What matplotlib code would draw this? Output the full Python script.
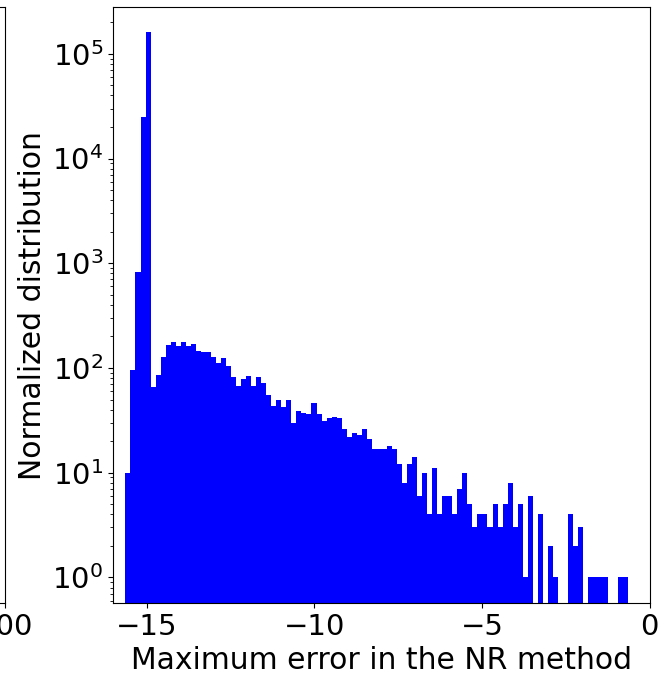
import numpy as np
import matplotlib
matplotlib.use("Agg")
import matplotlib.pyplot as plt

# histogram of the max error (log10) per run, 100 bins
bin_start = -15.63
bin_stop = -0.64
n_bins = 100

counts = [
    10, 95, 830, 25000, 160000, 66, 85, 128, 165, 178,
    162, 177, 162, 171, 145, 142, 143, 128, 112, 125,
    104, 82, 68, 78, 83, 68, 82, 72, 55, 43,
    50, 42, 50, 30, 39, 37, 36, 46, 36, 31,
    33, 34, 33, 26, 22, 24, 23, 26, 21, 17,
    17, 17, 18, 17, 12, 8, 12, 14, 6, 10,
    4, 11, 4, 6, 6, 4, 7, 10, 5, 3,
    4, 4, 3, 5, 3, 5, 8, 3, 5, 1,
    6, 0, 4, 0, 2, 1, 0, 0, 4, 2,
    3, 0, 1, 1, 1, 1, 0, 0, 1, 1,
]

xticks = [-15, -10, -5, 0]
xlabel = "Maximum error in the NR method"
ylabel = "Normalized distribution"

edges = np.linspace(bin_start, bin_stop, n_bins + 1)
centers = 0.5 * (edges[:-1] + edges[1:])

fig = plt.figure(figsize=(6.61, 6.77), dpi=100)

# the neighbouring panel on the left, only its right edge is in the frame
ax0 = fig.add_axes([-0.5, 0.1093, 0.5083, 0.8797])
ax0.set_xlim(0, 100)
ax0.set_xticks([100])
ax0.set_yticks([])
ax0.tick_params(axis='x', labelsize=21)

ax = fig.add_axes([0.171, 0.1093, 0.812, 0.8797])
ax.hist(centers, bins=edges, weights=counts, color='blue', log=True)
ax.set_xlim(-16, 0)
ax.set_ylim(0.57, 2.77e5)
ax.set_xticks(xticks)
ax.tick_params(axis='both', which='major', labelsize=21)
ax.set_xlabel(xlabel, fontsize=21.5)
ax.set_ylabel(ylabel, fontsize=21.5)

fig.savefig("out.png", dpi=100)
